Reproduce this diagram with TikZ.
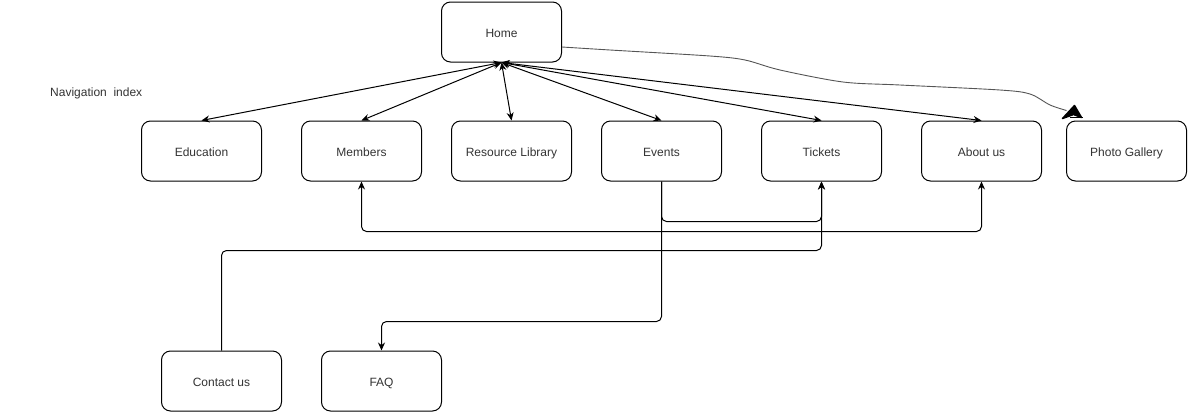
\documentclass[tikz,border=0pt]{standalone}
\usepackage{fontspec}
\setmainfont{Liberation Sans}
\usetikzlibrary{arrows.meta}
\definecolor{txt}{HTML}{333333}
\definecolor{curvecol}{HTML}{555555}
\tikzset{
  box/.style={draw=black, line width=1pt, rounded corners=9pt, minimum width=120pt, minimum height=60pt,
    inner sep=0pt, text=txt, font=\fontsize{12}{14}\selectfont, text height=11.4pt, text depth=0pt},
  lbl/.style={text=txt, font=\fontsize{12}{14}\selectfont, inner sep=0pt},
  tipa/.tip={Stealth[length=8pt,width=7pt]},
  conn/.style={draw=black, line width=1pt},
  orth/.style={conn, rounded corners=5pt},
}
\begin{document}
\begin{tikzpicture}[x=1pt,y=-1pt]
\useasboundingbox (0,0) rectangle (1200,413);
\node[box] (home) at (501.5,32) {Home};
\node[box] (edu) at (201.5,151) {Education};
\node[box] (mem) at (361.5,151) {Members};
\node[box] (res) at (511.5,151) {Resource Library};
\node[box] (evt) at (661.5,151) {Events};
\node[box] (tix) at (821.5,151) {Tickets};
\node[box] (abt) at (981.5,151) {About us};
\node[box] (pho) at (1126.5,151) {Photo Gallery};
\node[box] (con) at (221.5,381) {Contact us};
\node[box] (faq) at (381.5,381) {FAQ};
\node[lbl, anchor=west] (nav) at (50,93) {Navigation\ \ index};

\foreach \t in {edu,mem,res,evt,tix,abt}
  \draw[conn, tipa-tipa] (home.south) -- (\t.north);

\draw[orth, -tipa] (evt.south) -- ++(0,40) -| (tix.south);
\draw[orth, tipa-tipa] (mem.south) -- ++(0,50) -| (abt.south);
\draw[orth, -tipa] (con.north) -- ++(0,-100) -| (tix.south);
\draw[orth, -tipa] (evt.south) -- ++(0,140) -| (faq.north);

% sketchy connector Home -> Photo Gallery
\coordinate (hs) at ([yshift=-15pt]home.east);
\coordinate (pg) at ([xshift=0.5pt,yshift=10pt]pho.north west);
\draw[draw=curvecol, line width=0.9pt] plot[smooth, tension=0.5] coordinates
  {(hs) (610,50) (710,56) (745,60) (780,70) (843,82) (900,85) (1000,90) (1030,94) (1050,105) (pg)};
\fill[black, draw=black, line width=1.5pt, line join=round]
  ([shift={(-4,8)}]pg) -- ([shift={(8,-5)}]pg) -- ([shift={(15,7)}]pg) -- ([shift={(7,4)}]pg) -- cycle;
\draw[black, line width=1.2pt] ([shift={(3,7)}]pg) -- ([shift={(16,7)}]pg);
\end{tikzpicture}
\end{document}
